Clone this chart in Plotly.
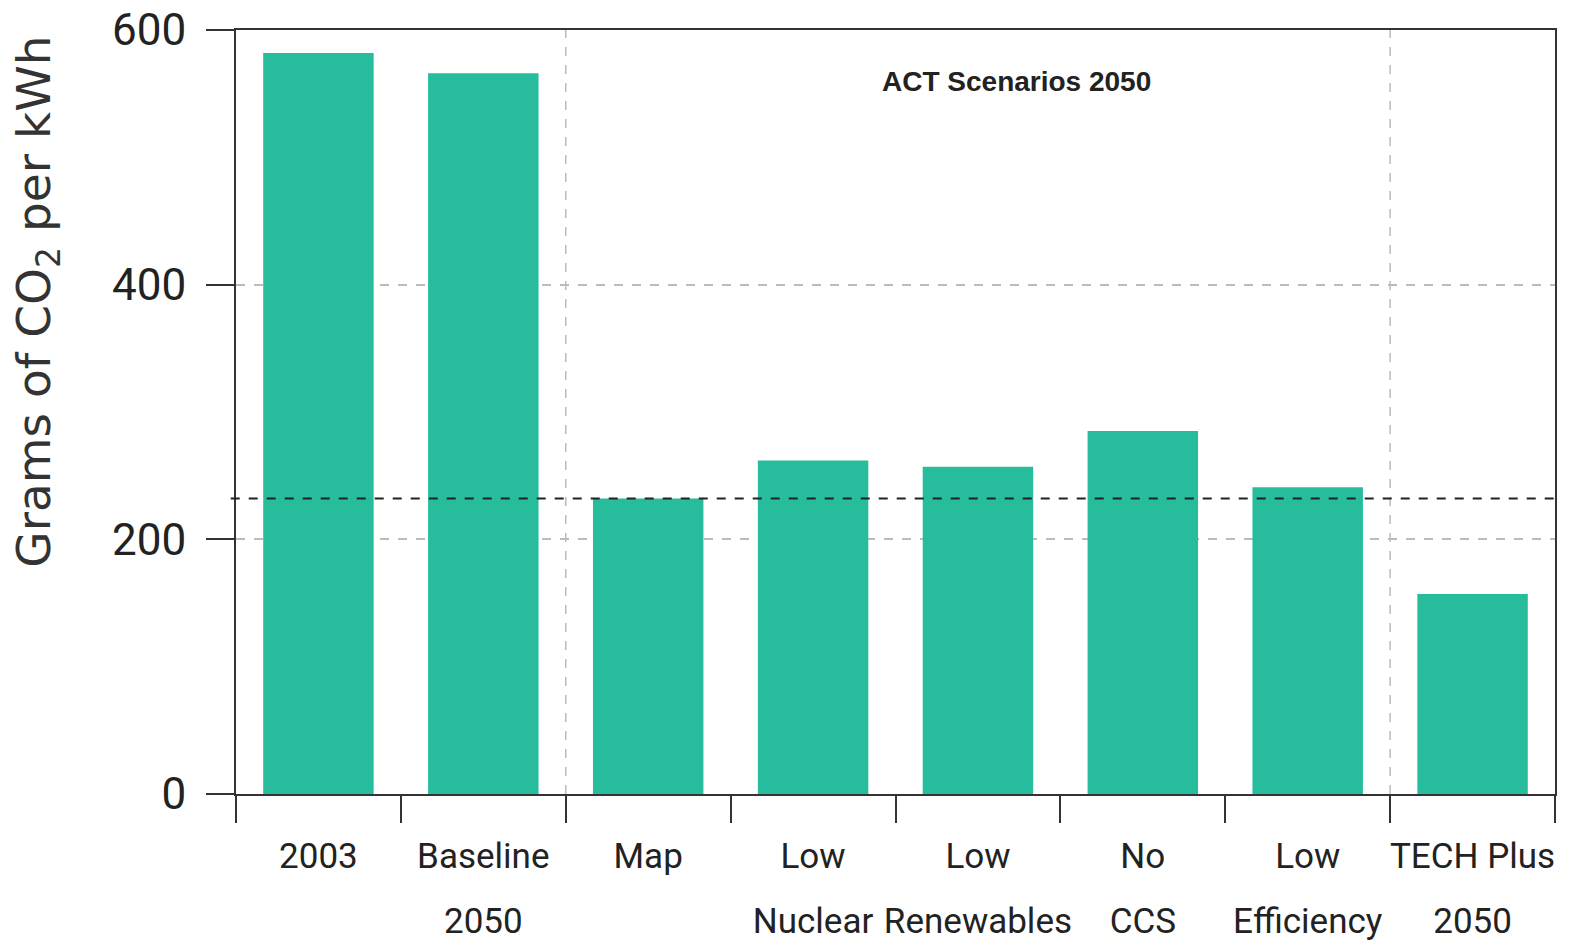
import plotly.graph_objects as go

label_lines = [["2003"], ["Baseline", "2050"], ["Map"], ["Low", "Nuclear"], ["Low", "Renewables"],
               ["No", "CCS"], ["Low", "Efficiency"], ["TECH Plus", "2050"]]
values = [582, 566, 232, 262, 257, 285, 241, 157]
map_reference = 232
y_ticks = [0, 200, 400, 600]
group_boundaries = [1.5, 6.5]
group_label = "ACT Scenarios 2050"
y_title = "Grams of CO<sub>2</sub> per kWh"

bar_color = "#27BD9C"
axis_color = "#333333"
font_main = "Roboto, Liberation Sans, sans-serif"

categories = ["<br>".join(f"<span style='font-size:35px'>{t}</span>" for t in lines)
              for lines in label_lines]

fig = go.Figure()
fig.add_trace(go.Bar(
    x=categories, y=values, width=0.67,
    marker=dict(color=bar_color, line=dict(width=0)),
    hoverinfo="y",
))

shapes = []
for b in group_boundaries:
    shapes.append(dict(type="line", xref="x", yref="paper", x0=b, x1=b, y0=0, y1=1,
                       line=dict(color="#BBBBBB", width=1.5, dash="dash"), layer="below"))
shapes.append(dict(type="line", xref="paper", yref="y", x0=-0.004, x1=1, y0=map_reference,
                   y1=map_reference, line=dict(color="#222222", width=2, dash="dash"),
                   layer="above"))

fig.update_layout(
    width=1564, height=943,
    margin=dict(l=228, r=17, t=22, b=157),
    paper_bgcolor="white", plot_bgcolor="white",
    showlegend=False,
    bargap=0.33,
    shapes=shapes,
    xaxis=dict(
        type="category", tickson="boundaries", ticks="outside", ticklen=27,
        tickwidth=2, tickcolor=axis_color, tickangle=0, automargin=False,
        ticklabelstandoff=12, ticklabeloverflow="allow",
        showline=True, linecolor=axis_color, linewidth=2, mirror=True,
        showgrid=False, tickfont=dict(family=font_main, size=50, color="#222222"),
    ),
    yaxis=dict(
        range=[0, 600], tickvals=y_ticks, ticks="outside", ticklen=28, tickwidth=2,
        tickcolor=axis_color, showline=True, linecolor=axis_color, linewidth=2, mirror=True,
        showgrid=True, gridcolor="#BBBBBB", gridwidth=1.5, griddash="dash",
        zeroline=False, ticklabelstandoff=11, automargin=False,
        ticklabeloverflow="allow",
        tickfont=dict(family=font_main, size=44, color="#222222"),
    ),
    annotations=[
        dict(text=group_label, xref="paper", yref="paper", x=0.592, y=0.932,
             showarrow=False, xanchor="center", yanchor="middle",
             font=dict(family="Liberation Sans, sans-serif", size=28, color="#222222",
                       weight="bold")),
        dict(text=y_title, xref="paper", yref="paper", x=-0.1505, y=0.645,
             showarrow=False, xanchor="center", yanchor="middle", textangle=-90,
             font=dict(family="DejaVu Sans, sans-serif", size=47, color="#333333")),
    ],
)

fig.write_html("out.html")
